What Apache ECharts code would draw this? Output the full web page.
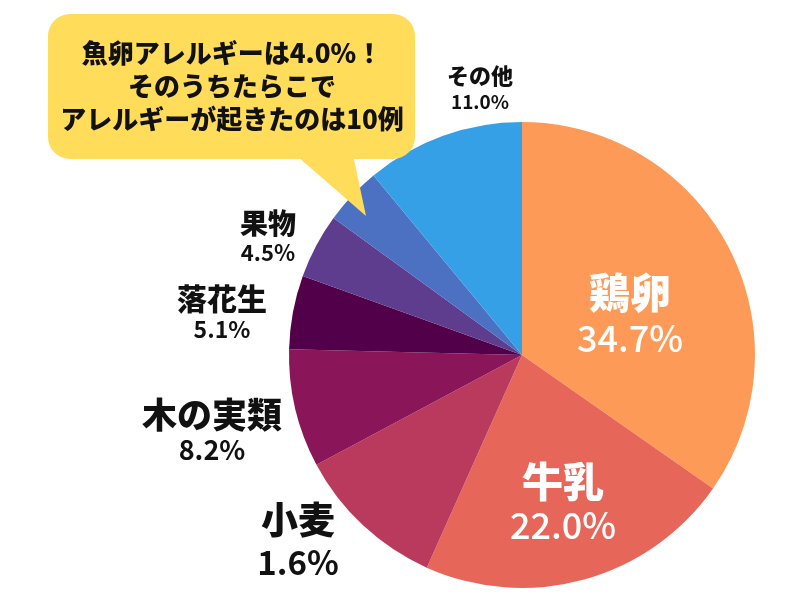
<!DOCTYPE html>
<html><head><meta charset="utf-8">
<script src="https://cdn.jsdelivr.net/npm/echarts@6/dist/echarts.min.js"></script>
<style>html,body{margin:0;padding:0;background:#fff}#c{width:800px;height:600px}</style>
</head><body><div id="c"></div>
<script>
// data
const categories = ['鶏卵','牛乳','小麦','木の実類','落花生','果物','魚卵','その他'];
const values = [34.7, 22.0, 10.5, 8.2, 5.1, 4.5, 4.0, 11.0];
const percentLabels = ['34.7%','22.0%','1.6%','8.2%','5.1%','4.5%','4.0%','11.0%'];
const calloutLines = ['魚卵アレルギーは4.0%！','そのうちたらこで','アレルギーが起きたのは10例'];

// styles
const colors = ['#FE9A57','#E6665A','#BA3A5E','#8A1558','#53004B','#5E3D8E','#4C70C2','#35A0E5'];
const labelPos = [[630,315],[563,503],[298,541],[212,432],[222,314],[268,238],null,[480,89]];
const nameSize = [41,41,37,35,30,28,20,22];
const pctSize = [36,36,33,27,23,22,16,19];
const lineH = [46,44,42,35,31,29,26,26];
const white = [true,true,false,false,false,false,false,false];
const FONT = '"Noto Sans CJK JP","Noto Sans",sans-serif';

const chart = echarts.init(document.getElementById('c'));
const data = categories.map((n,i)=>({
  name:n, value:values[i],
  itemStyle:{color:colors[i]},
  label:{
    show: labelPos[i]!==null,
    formatter:'{n|'+n+'}\n{p|'+percentLabels[i]+'}',
    rich:{
      n:{fontSize:nameSize[i],fontWeight:900,color:white[i]?'#fff':'#111',fontFamily:FONT,lineHeight:lineH[i],align:'center'},
      p:{fontSize:pctSize[i],fontWeight:white[i]?500:'bold',color:white[i]?'#fff':'#111',fontFamily:FONT,lineHeight:lineH[i],align:'center'}
    }
  }
}));
chart.setOption({
  animation:false,
  series:[{
    type:'pie',
    center:[522,355],
    radius:[0,233],
    startAngle:90,
    clockwise:true,
    avoidLabelOverlap:false,
    label:{position:'outside'},
    labelLine:{show:false},
    data:data,
    labelLayout:function(p){
      const pos = labelPos[p.dataIndex];
      if(!pos) return {};
      return {x:pos[0],y:pos[1],align:'center',verticalAlign:'middle',hideOverlap:false,moveOverlap:null};
    }
  }],
  graphic:[
    {type:'polygon',shape:{points:[[290,150],[352,150],[366,216]]},style:{fill:'#FFDC5A'},z:10},
    {type:'rect',shape:{x:48,y:14,width:367,height:145,r:22},style:{fill:'#FFDC5A'},z:10},
    {type:'text',x:232,y:86,z:11,style:{
      text:calloutLines.join('\n'),fill:'#111',font:'900 26px '+FONT,
      align:'center',verticalAlign:'middle',lineHeight:33}}
  ]
});
</script></body></html>
